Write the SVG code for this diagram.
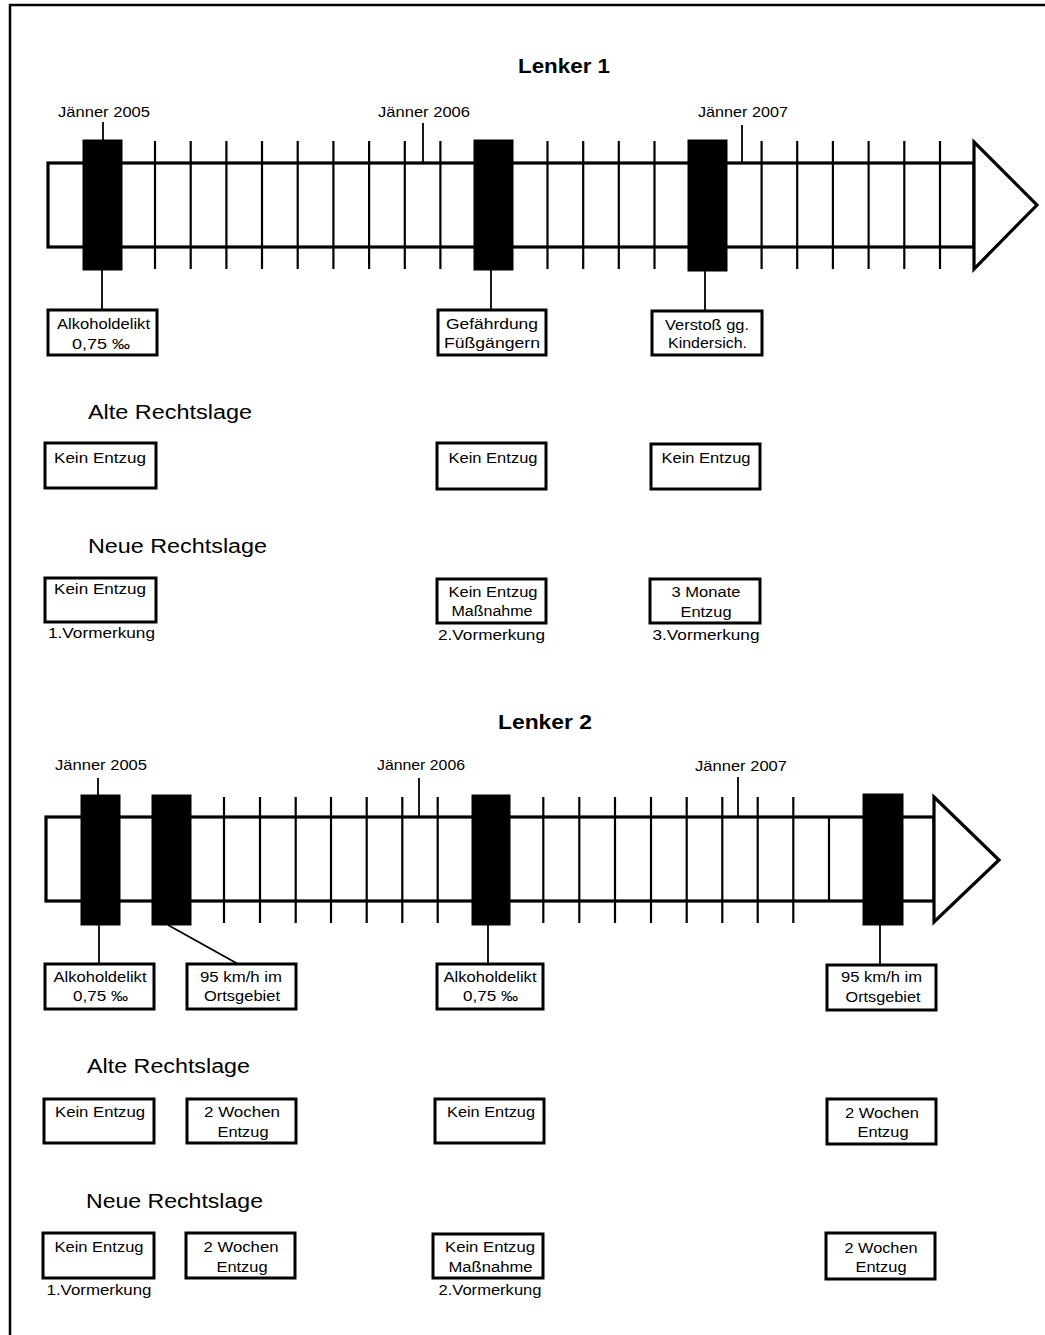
<svg xmlns="http://www.w3.org/2000/svg" width="1045" height="1335" viewBox="0 0 1045 1335">
<style>
.bg{fill:#fff}
.frame{fill:none;stroke:#000;stroke-width:2.5}
.bar{fill:#fff;stroke:#000;stroke-width:3.2}
.arrow{fill:#fff;stroke:#000;stroke-width:3.2;stroke-linejoin:miter}
.tick{stroke:#000;stroke-width:2.2}
.blk{fill:#000;stroke:#000;stroke-width:1}
.box{fill:#fff;stroke:#000;stroke-width:3}
.conn{stroke:#000;stroke-width:1.8;fill:none}
text{font-family:"Liberation Sans",Arial,Helvetica,sans-serif;fill:#000}
.t{font-size:14px;text-anchor:middle}
.d{font-size:15px;text-anchor:middle}
.h{font-size:20px;text-anchor:start}
.ti{font-size:21px;font-weight:bold;text-anchor:middle}
</style>
<rect class="bg" x="0" y="0" width="1045" height="1335"/>
<path class="frame" d="M10,1335 V5 H1045"/>

<!-- ============ LENKER 1 ============ -->
<g id="lenker1-title"><text class="ti" x="564" y="73" textLength="92" lengthAdjust="spacingAndGlyphs">Lenker 1</text></g>

<g id="timeline1">
  <rect class="bar" x="48" y="163" width="926" height="84"/>
  <g class="ticks1">
    <line class="tick" x1="155" y1="141" x2="155" y2="269"/>
    <line class="tick" x1="190.7" y1="141" x2="190.7" y2="269"/>
    <line class="tick" x1="226.4" y1="141" x2="226.4" y2="269"/>
    <line class="tick" x1="262" y1="141" x2="262" y2="269"/>
    <line class="tick" x1="297.7" y1="141" x2="297.7" y2="269"/>
    <line class="tick" x1="333.4" y1="141" x2="333.4" y2="269"/>
    <line class="tick" x1="369.1" y1="141" x2="369.1" y2="269"/>
    <line class="tick" x1="404.8" y1="141" x2="404.8" y2="269"/>
    <line class="tick" x1="440.4" y1="141" x2="440.4" y2="269"/>
    <line class="tick" x1="547.5" y1="141" x2="547.5" y2="269"/>
    <line class="tick" x1="583.2" y1="141" x2="583.2" y2="269"/>
    <line class="tick" x1="618.8" y1="141" x2="618.8" y2="269"/>
    <line class="tick" x1="654.5" y1="141" x2="654.5" y2="269"/>
    <line class="tick" x1="761.6" y1="141" x2="761.6" y2="269"/>
    <line class="tick" x1="797.2" y1="141" x2="797.2" y2="269"/>
    <line class="tick" x1="832.9" y1="141" x2="832.9" y2="269"/>
    <line class="tick" x1="868.6" y1="141" x2="868.6" y2="269"/>
    <line class="tick" x1="904.3" y1="141" x2="904.3" y2="269"/>
    <line class="tick" x1="940" y1="141" x2="940" y2="269"/>
  </g>
  <polygon class="arrow" points="974,142 1037,205 974,269"/>
</g>

<g id="date1-2005"><text class="d" x="104" y="117" textLength="92" lengthAdjust="spacingAndGlyphs">Jänner 2005</text></g>
<g id="date1-2006"><text class="d" x="424" y="117" textLength="92" lengthAdjust="spacingAndGlyphs">Jänner 2006</text></g>
<g id="date1-2007"><text class="d" x="743" y="117" textLength="90" lengthAdjust="spacingAndGlyphs">Jänner 2007</text></g>

<g id="event1-1"><rect class="blk" x="83" y="140" width="39" height="130"/></g>
<g id="event1-2"><rect class="blk" x="474" y="140" width="39" height="130"/></g>
<g id="event1-3"><rect class="blk" x="688" y="140" width="39" height="131"/></g>

<g id="callout1-1">
  <rect class="box" x="48" y="310" width="109" height="45"/>
  <text class="t" x="103.5" y="329" textLength="93" lengthAdjust="spacingAndGlyphs">Alkoholdelikt</text>
  <text class="t" x="101" y="349" textLength="58" lengthAdjust="spacingAndGlyphs">0,75 ‰</text>
</g>
<g id="callout1-2">
  <rect class="box" x="438" y="310" width="108" height="45"/>
  <text class="t" x="492" y="329" textLength="92" lengthAdjust="spacingAndGlyphs">Gefährdung</text>
  <text class="t" x="492" y="348" textLength="96" lengthAdjust="spacingAndGlyphs">Füßgängern</text>
</g>
<g id="callout1-3">
  <rect class="box" x="652" y="311" width="110" height="44"/>
  <text class="t" x="707" y="330" textLength="84" lengthAdjust="spacingAndGlyphs">Verstoß gg.</text>
  <text class="t" x="707.5" y="348" textLength="79" lengthAdjust="spacingAndGlyphs">Kindersich.</text>
</g>

<g id="alt1-heading"><text class="h" x="88" y="419" textLength="164" lengthAdjust="spacingAndGlyphs">Alte Rechtslage</text></g>
<g id="alt1-1">
  <rect class="box" x="45" y="443" width="111" height="45"/>
  <text class="t" x="100" y="463" textLength="92" lengthAdjust="spacingAndGlyphs">Kein Entzug</text>
</g>
<g id="alt1-2">
  <rect class="box" x="437" y="443" width="109" height="46"/>
  <text class="t" x="493" y="463" textLength="89" lengthAdjust="spacingAndGlyphs">Kein Entzug</text>
</g>
<g id="alt1-3">
  <rect class="box" x="651" y="444" width="109" height="45"/>
  <text class="t" x="706" y="463" textLength="89" lengthAdjust="spacingAndGlyphs">Kein Entzug</text>
</g>

<g id="neu1-heading"><text class="h" x="88" y="553" textLength="179" lengthAdjust="spacingAndGlyphs">Neue Rechtslage</text></g>
<g id="neu1-1">
  <rect class="box" x="45" y="578" width="111" height="44"/>
  <text class="t" x="100" y="594" textLength="92" lengthAdjust="spacingAndGlyphs">Kein Entzug</text>
  <text class="t" x="101.5" y="638" textLength="107" lengthAdjust="spacingAndGlyphs">1.Vormerkung</text>
</g>
<g id="neu1-2">
  <rect class="box" x="437" y="579" width="109" height="44"/>
  <text class="t" x="493" y="597" textLength="89" lengthAdjust="spacingAndGlyphs">Kein Entzug</text>
  <text class="t" x="492" y="616" textLength="81" lengthAdjust="spacingAndGlyphs">Maßnahme</text>
  <text class="t" x="491.5" y="640" textLength="107" lengthAdjust="spacingAndGlyphs">2.Vormerkung</text>
</g>
<g id="neu1-3">
  <rect class="box" x="650" y="579" width="110" height="44"/>
  <text class="t" x="706" y="597" textLength="69" lengthAdjust="spacingAndGlyphs">3 Monate</text>
  <text class="t" x="706" y="617" textLength="51" lengthAdjust="spacingAndGlyphs">Entzug</text>
  <text class="t" x="706" y="640" textLength="107" lengthAdjust="spacingAndGlyphs">3.Vormerkung</text>
</g>

<!-- ============ LENKER 2 ============ -->
<g id="lenker2-title"><text class="ti" x="545" y="729" textLength="94" lengthAdjust="spacingAndGlyphs">Lenker 2</text></g>

<g id="timeline2">
  <rect class="bar" x="46" y="817" width="888" height="84"/>
  <g class="ticks2">
    <line class="tick" x1="224" y1="797" x2="224" y2="923"/>
    <line class="tick" x1="260" y1="797" x2="260" y2="923"/>
    <line class="tick" x1="295.7" y1="797" x2="295.7" y2="923"/>
    <line class="tick" x1="331" y1="797" x2="331" y2="923"/>
    <line class="tick" x1="366.7" y1="797" x2="366.7" y2="923"/>
    <line class="tick" x1="402.3" y1="797" x2="402.3" y2="923"/>
    <line class="tick" x1="437.7" y1="797" x2="437.7" y2="923"/>
    <line class="tick" x1="543.3" y1="797" x2="543.3" y2="923"/>
    <line class="tick" x1="579.3" y1="797" x2="579.3" y2="923"/>
    <line class="tick" x1="615" y1="797" x2="615" y2="923"/>
    <line class="tick" x1="651" y1="797" x2="651" y2="923"/>
    <line class="tick" x1="686.7" y1="797" x2="686.7" y2="923"/>
    <line class="tick" x1="722.3" y1="797" x2="722.3" y2="923"/>
    <line class="tick" x1="757.7" y1="797" x2="757.7" y2="923"/>
    <line class="tick" x1="793.3" y1="797" x2="793.3" y2="923"/>
    <line class="tick" x1="829" y1="817" x2="829" y2="901"/>
  </g>
  <polygon class="arrow" points="934,797 999,860 934,922"/>
</g>

<g id="date2-2005"><text class="d" x="101" y="770" textLength="92" lengthAdjust="spacingAndGlyphs">Jänner 2005</text></g>
<g id="date2-2006"><text class="d" x="421" y="770" textLength="88" lengthAdjust="spacingAndGlyphs">Jänner 2006</text></g>
<g id="date2-2007"><text class="d" x="741" y="771" textLength="92" lengthAdjust="spacingAndGlyphs">Jänner 2007</text></g>

<g id="event2-1"><rect class="blk" x="81" y="795" width="39" height="130"/></g>
<g id="event2-2"><rect class="blk" x="152" y="795" width="39" height="130"/></g>
<g id="event2-3"><rect class="blk" x="472" y="795" width="38" height="130"/></g>
<g id="event2-4"><rect class="blk" x="863" y="794" width="40" height="131"/></g>

<g id="callout2-1">
  <rect class="box" x="45" y="964" width="109" height="45"/>
  <text class="t" x="100" y="982" textLength="93" lengthAdjust="spacingAndGlyphs">Alkoholdelikt</text>
  <text class="t" x="100.5" y="1001" textLength="55" lengthAdjust="spacingAndGlyphs">0,75 ‰</text>
</g>
<g id="callout2-2">
  <rect class="box" x="187" y="964" width="109" height="45"/>
  <text class="t" x="241" y="982" textLength="82" lengthAdjust="spacingAndGlyphs">95 km/h im</text>
  <text class="t" x="242" y="1001" textLength="76" lengthAdjust="spacingAndGlyphs">Ortsgebiet</text>
</g>
<g id="callout2-3">
  <rect class="box" x="437" y="964" width="106" height="45"/>
  <text class="t" x="490" y="982" textLength="93" lengthAdjust="spacingAndGlyphs">Alkoholdelikt</text>
  <text class="t" x="490.5" y="1001" textLength="55" lengthAdjust="spacingAndGlyphs">0,75 ‰</text>
</g>
<g id="callout2-4">
  <rect class="box" x="827" y="965" width="109" height="45"/>
  <text class="t" x="881.5" y="982" textLength="81" lengthAdjust="spacingAndGlyphs">95 km/h im</text>
  <text class="t" x="883" y="1002" textLength="75" lengthAdjust="spacingAndGlyphs">Ortsgebiet</text>
</g>

<g id="alt2-heading"><text class="h" x="87" y="1073" textLength="163" lengthAdjust="spacingAndGlyphs">Alte Rechtslage</text></g>
<g id="alt2-1">
  <rect class="box" x="44" y="1099" width="110" height="44"/>
  <text class="t" x="100" y="1117" textLength="90" lengthAdjust="spacingAndGlyphs">Kein Entzug</text>
</g>
<g id="alt2-2">
  <rect class="box" x="187" y="1099" width="109" height="44"/>
  <text class="t" x="242" y="1117" textLength="76" lengthAdjust="spacingAndGlyphs">2 Wochen</text>
  <text class="t" x="243" y="1137" textLength="51" lengthAdjust="spacingAndGlyphs">Entzug</text>
</g>
<g id="alt2-3">
  <rect class="box" x="435" y="1099" width="109" height="44"/>
  <text class="t" x="491" y="1117" textLength="88" lengthAdjust="spacingAndGlyphs">Kein Entzug</text>
</g>
<g id="alt2-4">
  <rect class="box" x="827" y="1099" width="109" height="45"/>
  <text class="t" x="882" y="1118" textLength="74" lengthAdjust="spacingAndGlyphs">2 Wochen</text>
  <text class="t" x="883" y="1137" textLength="51" lengthAdjust="spacingAndGlyphs">Entzug</text>
</g>

<g id="neu2-heading"><text class="h" x="86" y="1208" textLength="177" lengthAdjust="spacingAndGlyphs">Neue Rechtslage</text></g>
<g id="neu2-1">
  <rect class="box" x="43" y="1233" width="111" height="45"/>
  <text class="t" x="99" y="1252" textLength="89" lengthAdjust="spacingAndGlyphs">Kein Entzug</text>
  <text class="t" x="99" y="1295" textLength="105" lengthAdjust="spacingAndGlyphs">1.Vormerkung</text>
</g>
<g id="neu2-2">
  <rect class="box" x="186" y="1233" width="109" height="45"/>
  <text class="t" x="241" y="1252" textLength="75" lengthAdjust="spacingAndGlyphs">2 Wochen</text>
  <text class="t" x="242" y="1272" textLength="51" lengthAdjust="spacingAndGlyphs">Entzug</text>
</g>
<g id="neu2-3">
  <rect class="box" x="433" y="1234" width="110" height="44"/>
  <text class="t" x="490" y="1252" textLength="90" lengthAdjust="spacingAndGlyphs">Kein Entzug</text>
  <text class="t" x="490.5" y="1272" textLength="84" lengthAdjust="spacingAndGlyphs">Maßnahme</text>
  <text class="t" x="490" y="1295" textLength="103" lengthAdjust="spacingAndGlyphs">2.Vormerkung</text>
</g>
<g id="neu2-4">
  <rect class="box" x="826" y="1233" width="109" height="46"/>
  <text class="t" x="881" y="1253" textLength="73" lengthAdjust="spacingAndGlyphs">2 Wochen</text>
  <text class="t" x="881" y="1272" textLength="51" lengthAdjust="spacingAndGlyphs">Entzug</text>
</g>

<!-- ============ CONNECTORS ============ -->
<g id="connectors">
  <line class="conn" x1="103" y1="122" x2="103" y2="140"/>
  <line class="conn" x1="423" y1="123" x2="423" y2="163"/>
  <line class="conn" x1="742" y1="125" x2="742" y2="163"/>
  <line class="conn" x1="102" y1="270" x2="102" y2="310"/>
  <line class="conn" x1="491" y1="270" x2="491" y2="310"/>
  <line class="conn" x1="705" y1="271" x2="705" y2="311"/>
  <line class="conn" x1="98" y1="778" x2="98" y2="795"/>
  <line class="conn" x1="419" y1="778" x2="419" y2="817"/>
  <line class="conn" x1="738" y1="777" x2="738" y2="817"/>
  <line class="conn" x1="99" y1="925" x2="99" y2="964"/>
  <line class="conn" x1="168" y1="925" x2="238" y2="964"/>
  <line class="conn" x1="488" y1="925" x2="488" y2="964"/>
  <line class="conn" x1="880" y1="925" x2="880" y2="965"/>
</g>
</svg>
